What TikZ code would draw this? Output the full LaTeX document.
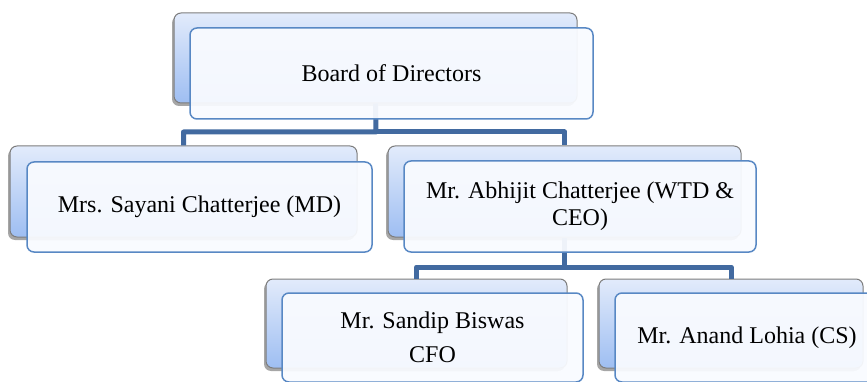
\documentclass[tikz,border=0pt]{standalone}
\usepackage{fontspec}
\setmainfont{Liberation Serif}
\newfontfamily\boxfont{Liberation Serif}
\usetikzlibrary{shadows}
\definecolor{conncol}{RGB}{66,106,160}
\definecolor{frontline}{RGB}{88,136,196}
\definecolor{frontfill}{RGB}{249,251,255}
\definecolor{backtop}{RGB}{226,235,251}
\definecolor{backbot}{RGB}{158,190,242}
\definecolor{backline}{RGB}{125,125,125}
\tikzset{
  backbox/.style={draw=backline, line width=1pt, rounded corners=7pt, top color=backtop, bottom color=backbot,
    inner sep=0pt, drop shadow={shadow xshift=-2pt, shadow yshift=-3pt, opacity=0.35, fill=black}},
  frontbox/.style={draw=frontline, line width=1.5pt, rounded corners=7pt, fill=frontfill, fill opacity=0.94,
    text opacity=1, inner sep=0pt, align=center, font=\boxfont\fontsize{24}{27}\selectfont},
  conn/.style={draw=conncol, line width=5pt, line join=round}
}
\begin{document}
\begin{tikzpicture}[x=1pt,y=-1pt]
\useasboundingbox (0,0) rectangle (867,382);
\clip (0,0) rectangle (867,382);
% back boxes
\node[backbox, minimum width=403pt, minimum height=90pt] (b0) at (375.5,58) {};
\node[backbox, minimum width=347pt, minimum height=91pt] (b1) at (183.5,191.5) {};
\node[backbox, minimum width=353pt, minimum height=91pt] (b2) at (564.5,191.5) {};
\node[backbox, minimum width=301pt, minimum height=89pt] (b3) at (416.5,323.5) {};
\node[backbox, minimum width=264pt, minimum height=89pt] (b4) at (731,323.5) {};
% connectors
\coordinate (m1) at (376,132);
\coordinate (m2) at (564.5,267);
\draw[conn] (b0.south) -- (m1) -| (b1.north);
\draw[conn] (m1) -| (b2.north);
\draw[conn] (b2.south) -- (m2) -| (b3.north);
\draw[conn] (m2) -| (b4.north);
% front boxes
\node[frontbox, minimum width=403pt, minimum height=91pt] (f0) at (391.5,73.5) {Board of Directors};
\node[frontbox, minimum width=345pt, minimum height=90pt] (f1) at (199.5,207) {Mrs. Sayani Chatterjee (MD)};
\node[frontbox, minimum width=352pt, minimum height=91pt] (f2) at (580,206.5) {Mr. Abhijit Chatterjee (WTD \&\\CEO)};
\node[frontbox, minimum width=301pt, minimum height=89pt, font=\boxfont\fontsize{24}{34}\selectfont] (f3) at (432.5,337.5) {Mr. Sandip Biswas\\CFO};
\node[frontbox, minimum width=264pt, minimum height=89pt] (f4) at (747,337.5) {Mr. Anand Lohia (CS)};
\end{tikzpicture}
\end{document}
